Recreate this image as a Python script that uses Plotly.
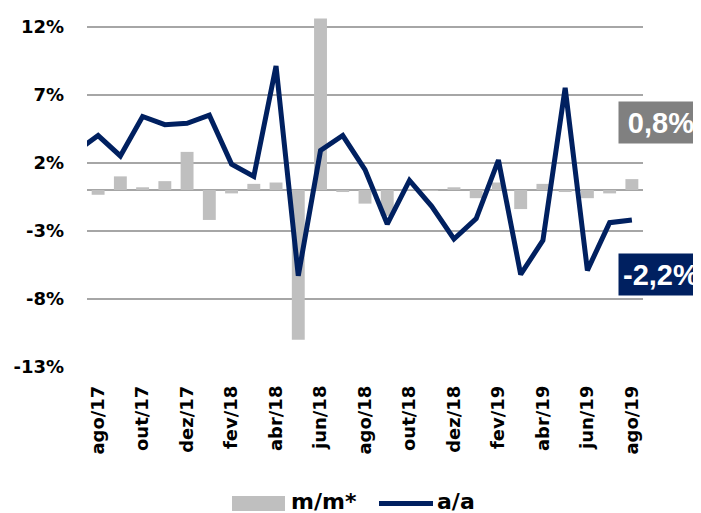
import plotly.graph_objects as go

months = ["jul/17", "ago/17", "set/17", "out/17", "nov/17", "dez/17", "jan/18", "fev/18",
          "mar/18", "abr/18", "mai/18", "jun/18", "jul/18", "ago/18", "set/18", "out/18",
          "nov/18", "dez/18", "jan/19", "fev/19", "mar/19", "abr/19", "mai/19", "jun/19",
          "jul/19", "ago/19"]
mm = [None, -0.35, 1.0, 0.2, 0.65, 2.8, -2.2, -0.25, 0.45, 0.55, -11.0, 12.6, -0.15,
      -1.0, -1.9, 0.05, -0.05, 0.2, -0.6, 0.55, -1.4, 0.45, -0.15, -0.6, -0.25, 0.8]
aa = [2.8, 4.0, 2.5, 5.4, 4.8, 4.9, 5.5, 1.9, 1.0, 9.1, -6.3, 2.9, 4.0, 1.5, -2.5, 0.7,
      -1.2, -3.6, -2.1, 2.2, -6.2, -3.7, 7.5, -5.9, -2.4, -2.2]
tick_months = months[1::2]
y_ticks = [-13, -8, -3, 2, 7, 12]

NAVY = "#002060"
GRAY_BAR = "#BFBFBF"
GRID = "#A6A6A6"
TICK_FONT = dict(family="DejaVu Sans", size=18, color="black", weight="bold")

# page body adds an 8px margin; figure sized to fit the 701x513 window
OFF = 8
W, H = 693, 505
L, R, T, B = 79, 58, 5, 146
pw, ph = W - L - R, H - T - B


def px(x):
    return (x - OFF - L) / pw


def py(y):
    return (H - B - (y - OFF)) / ph


fig = go.Figure()
fig.add_trace(go.Bar(x=months, y=mm, name="m/m*", marker_color=GRAY_BAR,
                     marker_line_width=0, showlegend=False))
fig.add_trace(go.Scatter(x=months, y=aa, name="a/a", mode="lines",
                         line=dict(color=NAVY, width=5), showlegend=False))


def fmt(v):
    return f"{v:.1f}%".replace(".", ",")


# end-value labels
fig.add_annotation(xref="paper", yref="paper", x=px(618), y=py(122.5),
                   xanchor="left", yanchor="middle", text=fmt(mm[-1]),
                   showarrow=False, bgcolor="#808080", width=80, height=37,
                   borderpad=2, align="center",
                   font=dict(family="Liberation Sans", size=29, color="white", weight="bold"))
fig.add_annotation(xref="paper", yref="paper", x=px(618), y=py(274),
                   xanchor="left", yanchor="middle", text=fmt(aa[-1]),
                   showarrow=False, bgcolor=NAVY, width=80, height=37,
                   borderpad=2, align="center",
                   font=dict(family="Liberation Sans", size=29, color="white", weight="bold"))

# custom legend
LEG_FONT = dict(family="DejaVu Sans", size=22, color="black", weight="bold")
fig.add_shape(type="rect", xref="paper", yref="paper", x0=px(232), x1=px(285),
              y0=py(511), y1=py(496), fillcolor=GRAY_BAR, line_width=0)
fig.add_annotation(xref="paper", yref="paper", x=px(289), y=py(502), xanchor="left",
                   yanchor="middle", text="m/m*", showarrow=False, font=LEG_FONT)
fig.add_shape(type="line", xref="paper", yref="paper", x0=px(379), x1=px(433),
              y0=py(503.5), y1=py(503.5), line=dict(color=NAVY, width=5))
fig.add_annotation(xref="paper", yref="paper", x=px(435), y=py(502), xanchor="left",
                   yanchor="middle", text="a/a", showarrow=False, font=LEG_FONT)

fig.update_layout(
    width=W, height=H, margin=dict(l=L, r=R, t=T, b=B, pad=0),
    paper_bgcolor="white", plot_bgcolor="white", bargap=0.42,
    showlegend=False,
)
fig.update_xaxes(type="category", categoryorder="array", categoryarray=months,
                 range=[0.5, 25.5], tickmode="array", tickvals=tick_months,
                 ticktext=tick_months, tickangle=-90, tickfont=TICK_FONT,
                 showgrid=False, showline=False, zeroline=False, ticks="",
                 ticklabelstandoff=14)
fig.update_yaxes(range=[-13, 13], tickmode="array", tickvals=y_ticks,
                 ticktext=[f"{v}%" for v in y_ticks], tickfont=TICK_FONT,
                 showgrid=True, gridcolor=GRID, gridwidth=2,
                 zeroline=True, zerolinecolor=GRID, zerolinewidth=2,
                 showline=False, ticks="", ticklabelstandoff=22)

fig.write_html("out.html")
